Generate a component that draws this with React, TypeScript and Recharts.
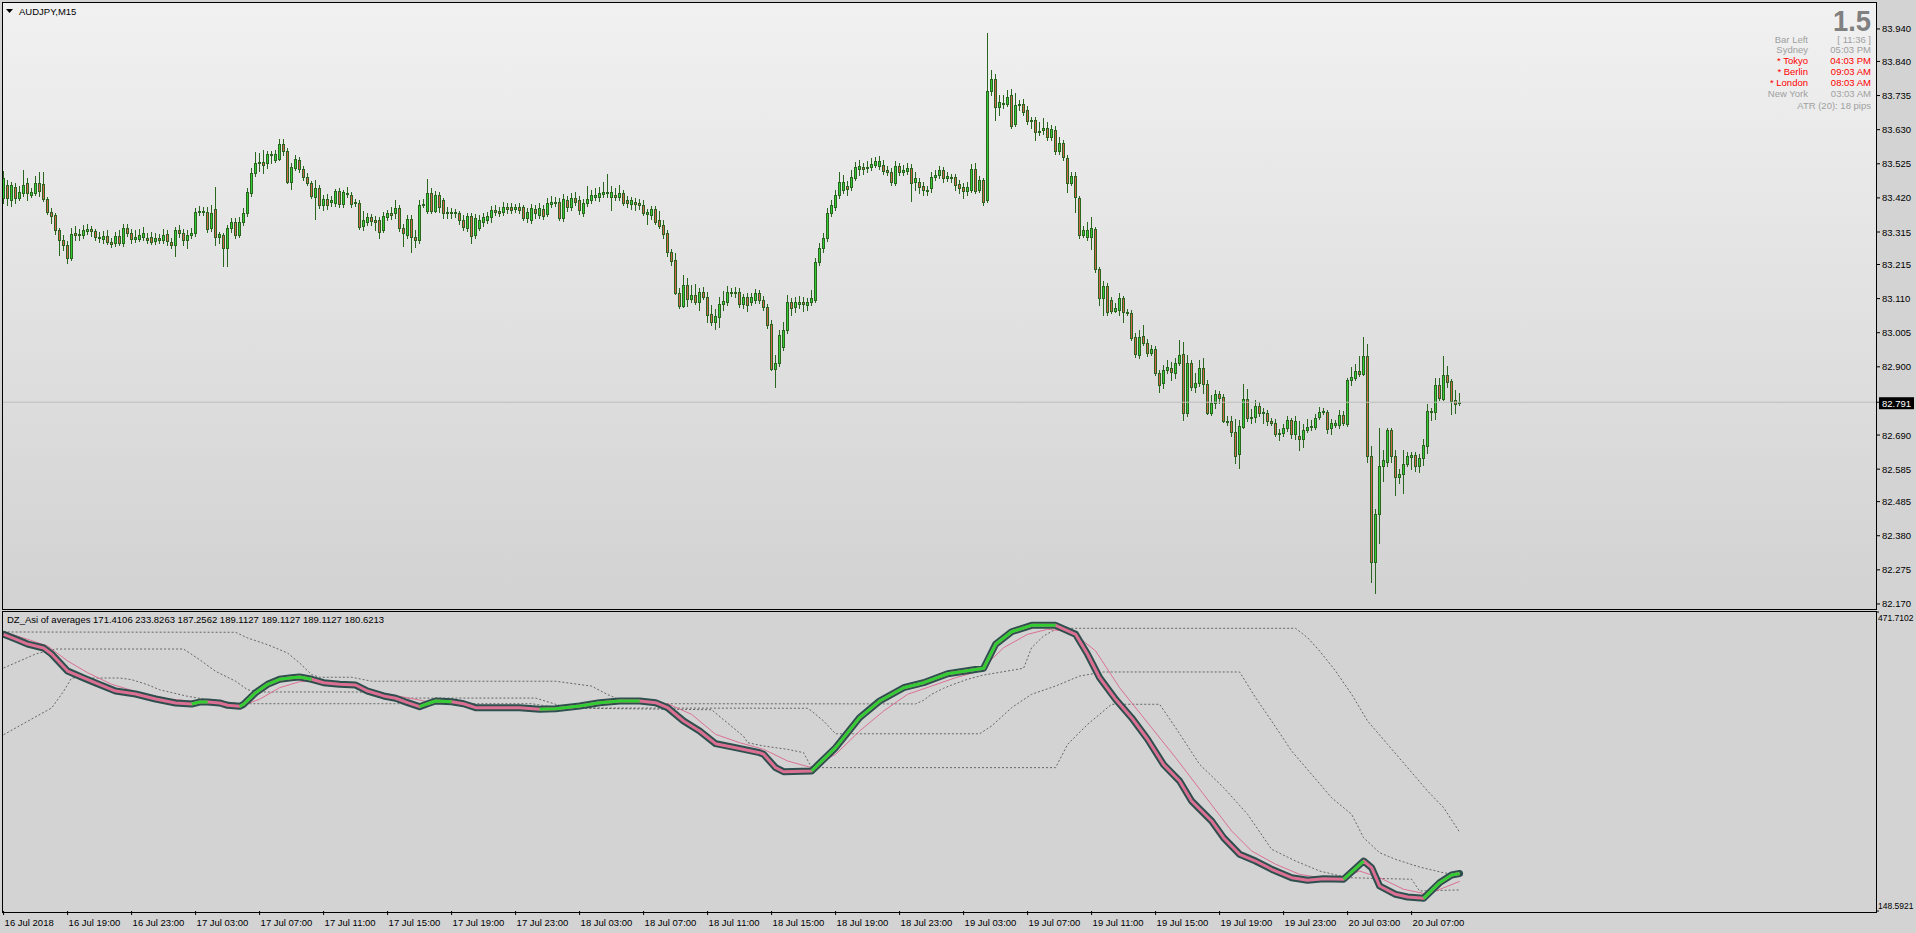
import React from 'react';
import { ComposedChart, Bar, Line, XAxis, YAxis, ReferenceLine } from 'recharts';

const FONT = '"Liberation Sans", Arial, Helvetica, sans-serif';

// ---------- AUDJPY M15 candles ----------
const candleOpen = [
  83.420,83.460,83.413,83.453,83.420,83.435,83.466,83.429,83.435,83.466,
  83.463,83.416,83.376,83.367,83.321,83.290,83.275,83.235,83.312,83.306,
  83.306,83.318,83.324,83.318,83.300,83.293,83.303,83.284,83.281,83.303,
  83.281,83.327,83.312,83.293,83.293,83.300,83.296,83.300,83.287,83.296,
  83.290,83.309,83.284,83.275,83.321,83.312,83.290,83.306,83.312,83.379,
  83.376,83.376,83.327,83.386,83.300,83.306,83.266,83.327,83.346,83.306,
  83.346,83.373,83.435,83.497,83.527,83.530,83.527,83.555,83.537,83.540,
  83.586,83.564,83.469,83.512,83.537,83.509,83.484,83.466,83.423,83.450,
  83.398,83.416,83.407,83.404,83.441,83.401,83.432,83.429,83.407,83.404,
  83.333,83.346,83.361,83.352,83.352,83.321,83.361,83.373,83.373,83.389,
  83.327,83.306,83.355,83.300,83.290,83.398,83.379,83.435,83.379,83.429,
  83.413,83.376,83.373,83.376,83.373,83.352,83.327,83.364,83.306,83.327,
  83.346,83.352,83.361,83.383,83.379,83.376,83.392,83.392,83.386,83.392,
  83.392,83.358,83.352,83.386,83.367,83.386,83.370,83.401,83.407,83.407,
  83.358,83.413,83.392,83.420,83.413,83.373,83.404,83.413,83.423,83.423,
  83.432,83.438,83.423,83.429,83.423,83.435,83.413,83.401,83.407,83.404,
  83.398,83.370,83.367,83.386,83.352,83.336,83.312,83.253,83.229,83.127,
  83.087,83.152,83.109,83.121,83.099,83.130,83.115,83.063,83.038,83.053,
  83.093,83.099,83.130,83.127,83.130,83.093,83.115,83.099,83.106,83.127,
  83.106,83.084,83.032,82.893,82.912,82.961,83.013,83.099,83.084,83.093,
  83.099,83.090,83.099,83.106,83.223,83.266,83.296,83.373,83.392,83.429,
  83.444,83.456,83.453,83.481,83.509,83.515,83.512,83.515,83.521,83.518,
  83.521,83.506,83.500,83.466,83.518,83.500,83.503,83.512,83.469,83.469,
  83.456,83.444,83.450,83.484,83.490,83.506,83.481,83.484,83.484,83.463,
  83.453,83.441,83.444,83.509,83.444,83.475,83.413,83.749,83.786,83.700,
  83.709,83.709,83.737,83.647,83.706,83.709,83.690,83.657,83.660,83.623,
  83.629,83.635,83.607,83.629,83.564,83.589,83.543,83.466,83.487,83.420,
  83.306,83.300,83.300,83.324,83.201,83.112,83.149,83.106,83.072,83.075,
  83.112,83.069,83.066,82.992,82.936,82.995,82.973,82.942,82.955,82.881,
  82.850,82.890,82.896,82.881,82.912,82.939,82.758,82.912,82.838,82.850,
  82.896,82.847,82.758,82.789,82.816,82.807,82.733,82.733,82.699,82.632,
  82.715,82.801,82.745,82.745,82.779,82.761,82.758,82.733,82.727,82.693,
  82.696,82.712,82.736,82.693,82.687,82.678,82.706,82.715,82.715,82.745,
  82.761,82.761,82.712,82.721,82.721,82.752,82.724,82.859,82.866,82.887,
  82.878,82.933,82.625,82.299,82.447,82.595,82.607,82.706,82.625,82.561,
  82.570,82.601,82.622,82.629,82.595,82.619,82.656,82.761,82.761,82.844,
  82.801,82.875,82.856,82.798,82.789,
];
const candleHigh = [
  83.503,83.475,83.469,83.466,83.456,83.506,83.481,83.450,83.487,83.500,
  83.500,83.423,83.389,83.373,83.327,83.306,83.287,83.327,83.333,83.324,
  83.336,83.340,83.333,83.324,83.315,83.318,83.321,83.296,83.315,83.321,
  83.340,83.340,83.324,83.321,83.324,83.330,83.312,83.315,83.312,83.309,
  83.324,83.321,83.296,83.330,83.336,83.324,83.321,83.327,83.389,83.395,
  83.392,83.392,83.398,83.453,83.315,83.312,83.336,83.358,83.358,83.361,
  83.389,83.450,83.512,83.561,83.558,83.567,83.564,83.564,83.567,83.601,
  83.601,83.573,83.527,83.552,83.546,83.518,83.497,83.472,83.475,83.460,
  83.429,83.432,83.426,83.447,83.450,83.444,83.453,83.438,83.416,83.413,
  83.379,83.373,83.370,83.364,83.361,83.376,83.383,83.392,83.413,83.398,
  83.340,83.367,83.367,83.321,83.413,83.416,83.478,83.450,83.441,83.438,
  83.420,83.392,83.389,83.386,83.379,83.367,83.373,83.373,83.370,83.367,
  83.373,83.376,83.395,83.398,83.392,83.407,83.404,83.404,83.401,83.404,
  83.398,83.389,83.401,83.398,83.404,83.398,83.420,83.426,83.423,83.420,
  83.432,83.426,83.435,83.438,83.426,83.416,83.456,83.444,83.450,83.453,
  83.469,83.494,83.456,83.450,83.460,83.444,83.426,83.423,83.420,83.416,
  83.413,83.386,83.395,83.395,83.379,83.352,83.321,83.263,83.250,83.143,
  83.183,83.173,83.152,83.155,83.143,83.146,83.130,83.090,83.078,83.115,
  83.133,83.149,83.143,83.146,83.143,83.124,83.127,83.127,83.139,83.136,
  83.118,83.093,83.044,82.936,83.013,83.038,83.121,83.112,83.115,83.118,
  83.115,83.112,83.136,83.235,83.281,83.312,83.389,83.413,83.444,83.500,
  83.490,83.472,83.506,83.530,83.537,83.527,83.533,83.543,83.546,83.549,
  83.537,83.518,83.512,83.533,83.527,83.521,83.527,83.524,83.500,83.481,
  83.469,83.456,83.500,83.506,83.518,83.515,83.500,83.494,83.494,83.475,
  83.466,83.469,83.524,83.527,83.487,83.481,83.927,83.814,83.801,83.737,
  83.737,83.752,83.755,83.743,83.721,83.724,83.703,83.669,83.669,83.654,
  83.666,83.654,83.644,83.641,83.607,83.598,83.552,83.500,83.500,83.426,
  83.333,83.346,83.361,83.330,83.207,83.164,83.158,83.115,83.096,83.127,
  83.118,83.078,83.075,83.004,83.013,83.029,82.986,82.967,82.964,82.890,
  82.905,82.921,82.915,82.927,82.982,82.976,82.936,82.921,82.881,82.921,
  82.927,82.859,82.813,82.829,82.826,82.816,82.749,82.749,82.739,82.736,
  82.847,82.832,82.770,82.798,82.792,82.773,82.767,82.742,82.739,82.709,
  82.724,82.749,82.742,82.749,82.733,82.724,82.739,82.736,82.755,82.776,
  82.773,82.767,82.739,82.736,82.767,82.764,82.866,82.899,82.908,82.933,
  82.992,82.970,82.656,82.462,82.712,82.644,82.712,82.712,82.644,82.585,
  82.644,82.638,82.638,82.638,82.632,82.678,82.786,82.773,82.866,82.866,
  82.933,82.902,82.862,82.829,82.819,
];
const candleLow = [
  83.404,83.398,83.395,83.404,83.413,83.426,83.413,83.423,83.429,83.426,
  83.410,83.370,83.343,83.309,83.244,83.259,83.220,83.229,83.290,83.290,
  83.296,83.309,83.303,83.290,83.284,83.281,83.278,83.269,83.272,83.275,
  83.272,83.303,83.281,83.284,83.287,83.290,83.281,83.278,83.278,83.281,
  83.281,83.275,83.266,83.241,83.300,83.275,83.266,83.296,83.303,83.367,
  83.367,83.315,83.318,83.275,83.281,83.210,83.210,83.315,83.296,83.300,
  83.336,83.364,83.426,83.487,83.503,83.497,83.512,83.527,83.530,83.537,
  83.552,83.466,83.447,83.506,83.500,83.475,83.460,83.420,83.355,83.389,
  83.383,83.386,83.395,83.395,83.392,83.392,83.423,83.392,83.395,83.324,
  83.321,83.336,83.336,83.321,83.296,83.315,83.352,83.355,83.358,83.318,
  83.272,83.296,83.253,83.269,83.281,83.392,83.373,83.373,83.376,83.376,
  83.358,83.358,83.358,83.361,83.340,83.321,83.318,83.281,83.296,83.321,
  83.333,83.343,83.346,83.367,83.364,83.367,83.373,83.373,83.376,83.373,
  83.352,83.346,83.343,83.358,83.358,83.355,83.364,83.392,83.395,83.352,
  83.349,83.379,83.383,83.398,83.370,83.364,83.395,83.404,83.413,83.410,
  83.423,83.423,83.383,83.413,83.413,83.398,83.392,83.386,83.383,83.386,
  83.367,83.340,83.355,83.340,83.327,83.296,83.241,83.213,83.124,83.081,
  83.084,83.087,83.099,83.093,83.075,83.109,83.038,83.029,83.016,83.023,
  83.075,83.090,83.118,83.115,83.084,83.081,83.072,83.090,83.096,83.096,
  83.075,83.019,82.890,82.838,82.902,82.952,83.004,83.059,83.069,83.081,
  83.072,83.075,83.090,83.099,83.213,83.253,83.287,83.364,83.383,83.420,
  83.435,83.429,83.444,83.475,83.490,83.494,83.500,83.506,83.515,83.509,
  83.494,83.490,83.460,83.460,83.490,83.490,83.494,83.410,83.444,83.435,
  83.429,83.429,83.438,83.475,83.481,83.469,83.472,83.469,83.444,83.435,
  83.420,83.429,83.438,83.435,83.438,83.398,83.407,83.737,83.660,83.675,
  83.697,83.703,83.635,83.641,83.690,83.675,83.647,83.635,83.598,83.613,
  83.617,83.598,83.598,83.555,83.555,83.537,83.438,83.460,83.376,83.296,
  83.300,83.290,83.263,83.192,83.090,83.059,83.059,83.066,83.069,83.059,
  83.038,83.059,82.982,82.930,82.927,82.967,82.933,82.936,82.875,82.823,
  82.835,82.881,82.859,82.866,82.906,82.736,82.749,82.829,82.823,82.841,
  82.819,82.755,82.752,82.773,82.789,82.730,82.721,82.687,82.604,82.588,
  82.712,82.733,82.727,82.730,82.749,82.727,82.721,82.721,82.687,82.675,
  82.687,82.702,82.681,82.678,82.644,82.653,82.699,82.706,82.709,82.739,
  82.755,82.696,82.693,82.715,82.712,82.721,82.718,82.844,82.859,82.872,
  82.875,82.607,82.238,82.204,82.358,82.549,82.595,82.607,82.505,82.542,
  82.512,82.595,82.585,82.579,82.576,82.598,82.635,82.736,82.739,82.798,
  82.798,82.838,82.755,82.758,82.782,
];
const candleClose = [
  83.481,83.420,83.460,83.420,83.438,83.460,83.435,83.438,83.466,83.441,
  83.416,83.376,83.364,83.321,83.290,83.275,83.235,83.309,83.306,83.309,
  83.321,83.324,83.318,83.300,83.296,83.303,83.284,83.278,83.303,83.281,
  83.327,83.312,83.293,83.300,83.306,83.312,83.290,83.284,83.296,83.290,
  83.306,83.287,83.275,83.321,83.312,83.290,83.306,83.312,83.376,83.376,
  83.379,83.324,83.373,83.300,83.309,83.266,83.327,83.346,83.306,83.346,
  83.373,83.438,83.497,83.527,83.530,83.521,83.555,83.552,83.555,83.586,
  83.564,83.469,83.515,83.540,83.509,83.484,83.466,83.426,83.450,83.398,
  83.416,83.398,83.413,83.441,83.401,83.438,83.435,83.401,83.404,83.330,
  83.352,83.361,83.349,83.346,83.315,83.364,83.373,83.367,83.389,83.327,
  83.312,83.355,83.300,83.290,83.398,83.401,83.435,83.379,83.429,83.392,
  83.373,83.373,83.376,83.373,83.352,83.330,83.364,83.303,83.358,83.352,
  83.361,83.364,83.383,83.376,83.373,83.392,83.386,83.383,83.392,83.383,
  83.358,83.376,83.389,83.373,83.389,83.364,83.404,83.407,83.404,83.358,
  83.416,83.392,83.420,83.407,83.383,83.404,83.416,83.429,83.429,83.435,
  83.438,83.435,83.438,83.423,83.435,83.404,83.404,83.413,83.401,83.398,
  83.373,83.376,83.386,83.346,83.333,83.309,83.253,83.226,83.127,83.087,
  83.152,83.109,83.121,83.099,83.130,83.115,83.059,83.038,83.056,83.093,
  83.102,83.130,83.127,83.130,83.093,83.115,83.090,83.115,83.127,83.106,
  83.084,83.029,82.893,82.912,82.998,83.013,83.099,83.081,83.099,83.099,
  83.093,83.099,83.112,83.223,83.266,83.296,83.373,83.398,83.429,83.469,
  83.469,83.447,83.484,83.515,83.518,83.509,83.515,83.524,83.533,83.533,
  83.503,83.500,83.469,83.518,83.500,83.506,83.512,83.466,83.481,83.453,
  83.444,83.441,83.484,83.490,83.506,83.481,83.487,83.481,83.460,83.450,
  83.441,83.453,83.509,83.441,83.475,83.407,83.749,83.786,83.700,83.715,
  83.712,83.730,83.641,83.706,83.709,83.684,83.657,83.660,83.623,83.626,
  83.635,83.607,83.632,83.564,83.589,83.546,83.466,83.487,83.423,83.306,
  83.321,83.321,83.327,83.201,83.112,83.149,83.069,83.072,83.081,83.112,
  83.069,83.066,82.989,82.939,82.992,82.973,82.942,82.955,82.881,82.844,
  82.890,82.899,82.884,82.912,82.936,82.758,82.912,82.838,82.850,82.896,
  82.847,82.758,82.789,82.816,82.804,82.733,82.730,82.699,82.625,82.718,
  82.801,82.742,82.742,82.779,82.758,82.758,82.733,82.727,82.693,82.696,
  82.712,82.736,82.693,82.733,82.678,82.706,82.715,82.718,82.742,82.761,
  82.764,82.709,82.727,82.727,82.752,82.727,82.859,82.869,82.887,82.878,
  82.933,82.625,82.299,82.447,82.595,82.613,82.706,82.625,82.561,82.570,
  82.601,82.625,82.629,82.595,82.619,82.659,82.764,82.764,82.844,82.804,
  82.875,82.853,82.795,82.786,82.791,
];

const CURRENT_PRICE = 82.791;
const priceTicks = [
  83.940, 83.840, 83.735, 83.630, 83.525, 83.420, 83.315, 83.215, 83.110,
  83.005, 82.900, 82.791, 82.690, 82.585, 82.485, 82.380, 82.275, 82.170,
];

// time axis: one label every 16 bars (4 hours of M15)
const BARS_PER_LABEL = 16;
const timeLabels = [
  '16 Jul 2018', '16 Jul 19:00', '16 Jul 23:00', '17 Jul 03:00', '17 Jul 07:00',
  '17 Jul 11:00', '17 Jul 15:00', '17 Jul 19:00', '17 Jul 23:00', '18 Jul 03:00',
  '18 Jul 07:00', '18 Jul 11:00', '18 Jul 15:00', '18 Jul 19:00', '18 Jul 23:00',
  '19 Jul 03:00', '19 Jul 07:00', '19 Jul 11:00', '19 Jul 15:00', '19 Jul 19:00',
  '19 Jul 23:00', '20 Jul 03:00', '20 Jul 07:00',
];

// ---------- DZ_Asi of averages (sampled at bar indexes) ----------
const asiBars = [0,3,6,10,12,16,20,23,28,33,38,43,47,49,51,54,56,59,60,63,66,69,72,74,77,80,84,88,91,95,98,101,104,106,108,112,115,118,124,129,134,138,144,149,154,159,163,166,170,174,178,183,189,190,193,195,202,208,214,219,225,230,236,245,248,252,257,263,268,271,274,278,282,286,290,294,297,302,305,309,313,317,322,326,330,335,340,342,344,348,351,355,359,362,364];
const asiVals = [447.6,442.5,437.1,432.8,426.3,407.9,400.4,395.0,386.3,383.1,377.7,373.4,372.3,374.4,374.4,373.4,370.9,369.8,372.0,384.5,393.6,399.0,400.7,401.5,399.0,395.3,393.6,392.8,386.3,381.0,378.5,373.7,369.4,372.6,375.5,374.8,372.6,368.3,368.3,368.3,366.6,367.2,370.1,373.7,375.5,375.5,373.7,368.3,353.9,343.1,329.4,325.1,319.7,318.0,303.5,299.1,299.9,325.1,357.5,375.5,389.9,395.3,405.0,410.9,436.8,450.4,457.3,457.3,447.6,426.0,400.7,377.4,357.5,334.2,306.8,289.1,267.5,245.9,227.8,209.9,202.6,193.7,184.6,181.8,183.5,182.9,202.6,195.4,175.6,166.6,163.7,162.3,179.2,187.5,189.1127];
const greenRanges = [[47,51],[59,77],[104,112],[134,159],[202,263],[335,340],[355,364]];

const sigBars = [0,6,11,16,21,27,34,41,48,54,60,64,69,74,79,86,92,100,106,113,120,132,144,157,166,172,178,184,190,196,202,208,214,220,226,232,238,244,250,256,261,267,273,279,287,293,300,307,312,318,324,329,335,339,344,350,356,364];
const sigVals = [450.4,442.2,435.0,418.8,406.1,393.6,384.5,378.0,374.8,372.0,371.2,377.4,389.9,396.4,397.2,394.2,386.3,379.8,374.8,373.7,370.1,368.3,370.1,374.5,372.6,361.1,339.5,330.5,323.3,310.7,303.5,317.9,343.1,364.7,382.8,391.7,400.7,407.9,433.1,447.6,453.0,450.4,429.6,389.9,346.7,314.3,274.7,235.1,213.4,199.1,188.2,184.6,184.6,191.8,184.6,172.1,166.6,180.6213];

const upBars = [0,58,61,66,71,74,77,79,87,92,138,147,151,154,166,228,230,232,235,237,241,245,255,257,260,263,264,323,326,329,333,337,341,346,351,356,360,364];
const upVals = [450.1,449.8,443.6,436.4,427.4,416.6,404.0,401.2,401.2,396.9,396.9,391.6,382.5,377.1,372.6,372.4,376.3,382.8,389.3,392.8,399.0,403.6,410.9,433.1,445.8,453.0,454.1,454.1,443.9,429.6,407.9,382.8,353.9,328.7,303.5,278.3,260.3,233.8263];

const midBars = [0,8,13,45,49,53,58,61,64,89,100,133,141,201,202,205,208,244,247,252,257,263,269,275,309,313,317,322,327,332,337,340,344,348,354,360,364];
const midVals = [411.2,426.3,431.7,431.7,420.2,407.6,396.9,387.7,385.3,385.3,378.7,378.7,368.0,367.7,364.7,353.9,340.1,340.1,348.5,368.3,382.8,391.7,402.5,406.9,406.9,379.1,353.9,321.5,296.3,271.0,253.1,227.8,211.6,204.4,196.1,189.9,187.2562];

const loBars = [0,6,12,15,17,29,32,36,39,46,51,59,132,139,177,185,186,190,196,200,202,263,266,271,277,289,293,299,305,311,317,323,329,336,352,354,364];
const loVals = [339.1,353.6,368.0,386.0,400.4,400.4,398.6,393.1,387.7,380.6,377.1,372.6,372.6,368.0,366.1,337.3,330.5,326.9,323.3,319.7,303.5,303.5,328.7,350.3,372.0,372.0,346.7,307.1,281.9,253.1,215.3,202.6,191.8,184.6,182.9,170.2,171.4106];

const IND_MIN = 148.5921;
const IND_MAX = 471.7102;
const indTitle = 'DZ_Asi of averages 171.4106 233.8263 187.2562 189.1127 189.1127 189.1127 180.6213';

const infoRows = [
  { label: 'Bar Left', value: '[ 11:36 ]', red: false },
  { label: 'Sydney', value: '05:03 PM', red: false },
  { label: '* Tokyo', value: '04:03 PM', red: true },
  { label: '* Berlin', value: '09:03 AM', red: true },
  { label: '* London', value: '08:03 AM', red: true },
  { label: 'New York', value: '03:03 AM', red: false },
];
const atrText = 'ATR (20): 18 pips';
const spreadText = '1.5';

// ---------- tables built for the library ----------
const N = Math.min(candleOpen.length, candleHigh.length, candleLow.length, candleClose.length);
const candles = Array.from({ length: N }, (_, i) => ({
  i,
  o: candleOpen[i],
  h: candleHigh[i],
  l: candleLow[i],
  c: candleClose[i],
  range: [candleLow[i], candleHigh[i]],
}));

const indData: Array<Record<string, number>> = Array.from({ length: N }, (_, i) => ({ i }));
const put = (bars: number[], vals: number[], key: string) => {
  bars.forEach((b, k) => {
    if (indData[b]) indData[b][key] = vals[k];
  });
};
put(asiBars, asiVals, 'asi');
put(sigBars, sigVals, 'sig');
put(upBars, upVals, 'up');
put(midBars, midVals, 'mid');
put(loBars, loVals, 'lo');
greenRanges.forEach(([a, b], r) => {
  asiBars.forEach((bar, k) => {
    if (bar >= a && bar <= b && indData[bar]) indData[bar]['g' + r] = asiVals[k];
  });
});

const timeTickBars = timeLabels.map((_, k) => k * BARS_PER_LABEL);
const X_DOMAIN: [number, number] = [-0.4, 468.1];

// ---------- colours ----------
const WICK = '#2A6620';
const UP_FILL = '#33CC33';
const DOWN_FILL = '#D2644A';
const ASI_EDGE = '#2F4F4F';
const ASI_PINK = '#DB7093';
const ASI_GREEN = '#32CD32';
const DOT_GRAY = '#666666';

// ---------- shapes ----------
const Candle = (props: any) => {
  const { x, width, y, height, payload } = props;
  if (x == null || y == null || !payload) return null;
  const { o, h, l, c } = payload;
  const cx = Math.round(x + width / 2);
  const top = Math.min(y, y + height);
  const bot = Math.max(y, y + height);
  const span = h - l || 1e-9;
  const py = (p: number) => top + ((h - p) / span) * (bot - top);
  const yo = py(o);
  const yc = py(c);
  const bt = Math.round(Math.min(yo, yc));
  const bb = Math.round(Math.max(yo, yc));
  const wt = Math.round(top);
  const wb = Math.round(bot);
  const bull = c >= o;
  return (
    <g shapeRendering="crispEdges">
      <rect x={cx} y={wt} width={1} height={Math.max(1, wb - wt + 1)} fill={WICK} />
      <rect x={cx - 1} y={bt} width={3} height={Math.max(1, bb - bt + 1)} fill={WICK} />
      {bb - bt >= 2 && (
        <rect x={cx} y={bt + 1} width={1} height={bb - bt - 1} fill={bull ? UP_FILL : DOWN_FILL} />
      )}
    </g>
  );
};

const PriceTick = (props: any) => {
  const { x, y, payload } = props;
  const v = payload.value as number;
  if (Math.abs(v - CURRENT_PRICE) < 1e-6) {
    return (
      <g>
        <rect x={x - 3} y={y - 5} width={35} height={12} fill="#000" />
        <text x={x} y={y + 1} fill="#fff" fontSize={9.5} fontFamily={FONT} dominantBaseline="central">
          {v.toFixed(3)}
        </text>
      </g>
    );
  }
  return (
    <text x={x} y={y} fill="#000" fontSize={9.5} fontFamily={FONT} dominantBaseline="central">
      {v.toFixed(3)}
    </text>
  );
};

const IndTick = (props: any) => {
  const { x, y, payload } = props;
  const v = payload.value as number;
  const dy = v > (IND_MIN + IND_MAX) / 2 ? 6 : -5;
  return (
    <text x={x - 1} y={y + dy} fill="#000" fontSize={8.5} fontFamily={FONT} dominantBaseline="central">
      {v.toFixed(4)}
    </text>
  );
};

const TimeTick = (props: any) => {
  const { x, y, payload } = props;
  const k = Math.round(payload.value / BARS_PER_LABEL);
  return (
    <text x={x + 1} y={y + 5} fill="#000" fontSize={9.5} fontFamily={FONT} textAnchor="start" dominantBaseline="central">
      {timeLabels[k]}
    </text>
  );
};

const lineCommon = {
  type: 'linear' as const,
  dot: false,
  activeDot: false,
  isAnimationActive: false,
  connectNulls: true,
};

export default function App() {
  return (
    <div
      style={{
        position: 'absolute',
        left: 0,
        top: 0,
        width: 1916,
        height: 933,
        background: '#D3D3D3',
        overflow: 'hidden',
        fontFamily: FONT,
      }}
    >
      {/* price panel background */}
      <div
        style={{
          position: 'absolute',
          left: 3,
          top: 3,
          width: 1873,
          height: 606,
          background: 'linear-gradient(to bottom, #F1F1F1 0%, #D2D2D2 100%)',
        }}
      />

      {/* price panel */}
      <div style={{ position: 'absolute', left: 0, top: 0 }}>
        <ComposedChart width={1916} height={612} data={candles} margin={{ top: 2, right: 0, bottom: 3, left: 2 }}>
          <XAxis dataKey="i" type="number" domain={X_DOMAIN} allowDataOverflow hide />
          <YAxis
            orientation="right"
            width={40}
            domain={[82.1545, 84.023]}
            allowDataOverflow
            ticks={priceTicks}
            interval={0}
            axisLine={false}
            tickLine={{ stroke: '#000' }}
            tickSize={4}
            tickMargin={2}
            tick={(p: any) => <PriceTick {...p} />}
          />
          <ReferenceLine y={CURRENT_PRICE} stroke="#BDBDBD" strokeWidth={1} ifOverflow="hidden" />
          <Bar dataKey="range" barSize={3} shape={(p: any) => <Candle {...p} />} isAnimationActive={false} />
        </ComposedChart>
      </div>

      {/* indicator panel */}
      <div style={{ position: 'absolute', left: 0, top: 611 }}>
        <ComposedChart width={1916} height={322} data={indData} margin={{ top: 1, right: 0, bottom: 0, left: 2 }}>
          <XAxis
            dataKey="i"
            type="number"
            domain={X_DOMAIN}
            allowDataOverflow
            ticks={timeTickBars}
            interval={0}
            height={22}
            axisLine={false}
            tickLine={{ stroke: '#000' }}
            tickSize={4}
            tickMargin={2}
            tick={(p: any) => <TimeTick {...p} />}
          />
          <YAxis
            orientation="right"
            width={40}
            domain={[IND_MIN, IND_MAX]}
            allowDataOverflow
            ticks={[IND_MIN, IND_MAX]}
            interval={0}
            axisLine={false}
            tickLine={{ stroke: '#000' }}
            tickSize={3}
            tickMargin={0}
            tick={(p: any) => <IndTick {...p} />}
          />
          <Line {...lineCommon} dataKey="up" stroke={DOT_GRAY} strokeWidth={1} strokeDasharray="2 2" />
          <Line {...lineCommon} dataKey="mid" stroke={DOT_GRAY} strokeWidth={1} strokeDasharray="2 2" />
          <Line {...lineCommon} dataKey="lo" stroke={DOT_GRAY} strokeWidth={1} strokeDasharray="2 2" />
          <Line {...lineCommon} dataKey="sig" stroke={ASI_PINK} strokeWidth={1} />
          <Line {...lineCommon} dataKey="asi" stroke={ASI_EDGE} strokeWidth={7} strokeLinejoin="round" strokeLinecap="round" />
          <Line {...lineCommon} dataKey="asi" stroke={ASI_PINK} strokeWidth={3} strokeLinejoin="round" />
          {greenRanges.map((_, r) => (
            <Line key={r} {...lineCommon} dataKey={'g' + r} stroke={ASI_GREEN} strokeWidth={3} strokeLinejoin="round" />
          ))}
        </ComposedChart>
      </div>

      {/* panel frames */}
      <div
        style={{
          position: 'absolute',
          left: 2,
          top: 2,
          width: 1875,
          height: 608,
          border: '1px solid #000',
          boxSizing: 'border-box',
          pointerEvents: 'none',
        }}
      />
      <div
        style={{
          position: 'absolute',
          left: 2,
          top: 611,
          width: 1875,
          height: 302,
          border: '1px solid #000',
          boxSizing: 'border-box',
          pointerEvents: 'none',
        }}
      />

      {/* texts */}
      <svg width={1916} height={933} style={{ position: 'absolute', left: 0, top: 0, pointerEvents: 'none' }}>
        <polygon points="6,9 13,9 9.5,13" fill="#000" />
        <text x={19} y={14.5} fontSize={9.5} fontFamily={FONT} fill="#000">AUDJPY,M15</text>
        <text x={7} y={623} fontSize={9.5} fontFamily={FONT} fill="#000">{indTitle}</text>

        <text
          x={1871}
          y={30.5}
          fontSize={30}
          fontWeight="bold"
          fontFamily={FONT}
          fill="#808080"
          textAnchor="end"
          textLength={38}
          lengthAdjust="spacingAndGlyphs"
        >
          {spreadText}
        </text>
        {infoRows.map((r, k) => {
          const y = 42.5 + k * 10.9;
          const fill = r.red ? '#FF0000' : '#A0A0A0';
          return (
            <g key={r.label}>
              <text x={1808} y={y} fontSize={9.5} fontFamily={FONT} fill={fill} textAnchor="end">{r.label}</text>
              <text x={1871} y={y} fontSize={9.5} fontFamily={FONT} fill={fill} textAnchor="end">{r.value}</text>
            </g>
          );
        })}
        <text x={1871} y={108.5} fontSize={9.5} fontFamily={FONT} fill="#A0A0A0" textAnchor="end">{atrText}</text>
      </svg>
    </div>
  );
}
